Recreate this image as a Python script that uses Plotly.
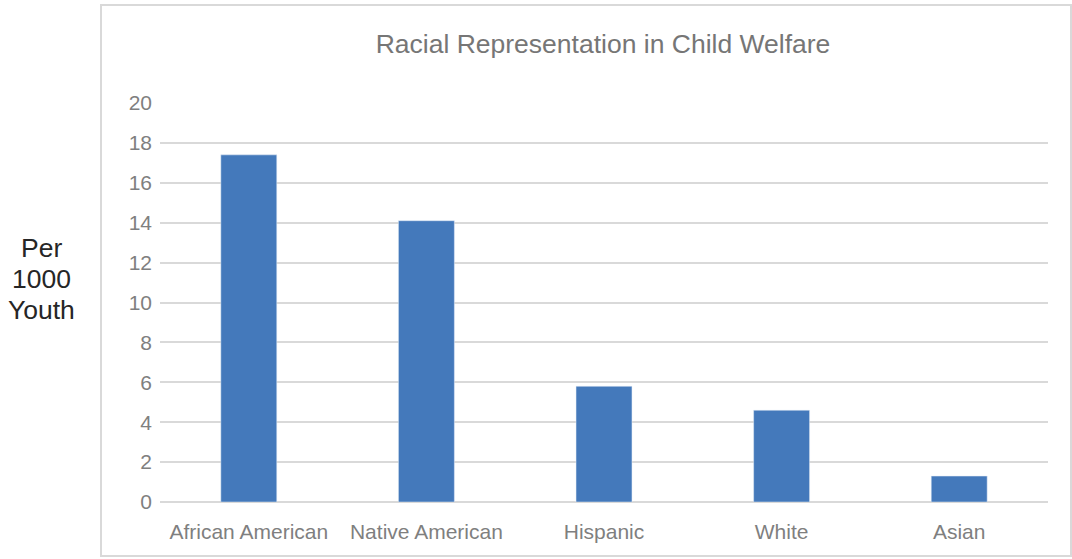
import plotly.graph_objects as go

categories = ["African American", "Native American", "Hispanic", "White", "Asian"]
values = [17.4, 14.1, 5.8, 4.6, 1.3]
tick_vals = [0, 2, 4, 6, 8, 10, 12, 14, 16, 18, 20]
ylabel_lines = ["Per", "1000", "Youth"]

W, H = 1072, 559
L, R, T, B = 160, 24, 103, 57
pw, ph = W - L - R, H - T - B

def px(x):
    return (x - L) / pw

def py(y):
    return (H - B - y) / ph

fig = go.Figure(go.Bar(x=categories, y=values, marker_color="#4479bb",
                       width=0.315, hoverinfo="x+y"))

annotations = []
for i, line in enumerate(ylabel_lines):
    annotations.append(dict(text=line, xref="paper", yref="paper",
                            x=px(41), y=py(248 + 31 * i), xanchor="center", yanchor="middle",
                            showarrow=False, align="center",
                            font=dict(size=26.5, color="#262626")))

fig.update_layout(
    width=W, height=H,
    margin=dict(l=L, r=R, t=T, b=B),
    paper_bgcolor="white", plot_bgcolor="white",
    font=dict(family="Liberation Sans, Arial, sans-serif", color="#7f7f7f"),
    showlegend=False,
    title=dict(text="Racial Representation in Child Welfare",
               x=px(603), xref="paper", xanchor="center",
               y=1 - 44 / H, yref="container", yanchor="middle",
               font=dict(size=26.5, color="#767676")),
    xaxis=dict(showgrid=False, showline=False, zeroline=False,
               tickfont=dict(size=21, color="#7f7f7f"),
               ticks="", ticklabelstandoff=15),
    yaxis=dict(range=[0, 20], tickvals=tick_vals, showgrid=True,
               gridcolor="#d9d9d9", gridwidth=1.5, zeroline=True,
               zerolinecolor="#d9d9d9", zerolinewidth=1.5, showline=False,
               tickfont=dict(size=21, color="#7f7f7f"),
               ticks="", ticklabelstandoff=7),
    annotations=annotations,
    shapes=[dict(type="rect", xref="paper", yref="paper",
                 x0=px(101), x1=px(1071), y0=py(556), y1=py(5),
                 line=dict(color="#d9d9d9", width=2), fillcolor="rgba(0,0,0,0)",
                 layer="below")],
)

fig.write_html("out.html")
